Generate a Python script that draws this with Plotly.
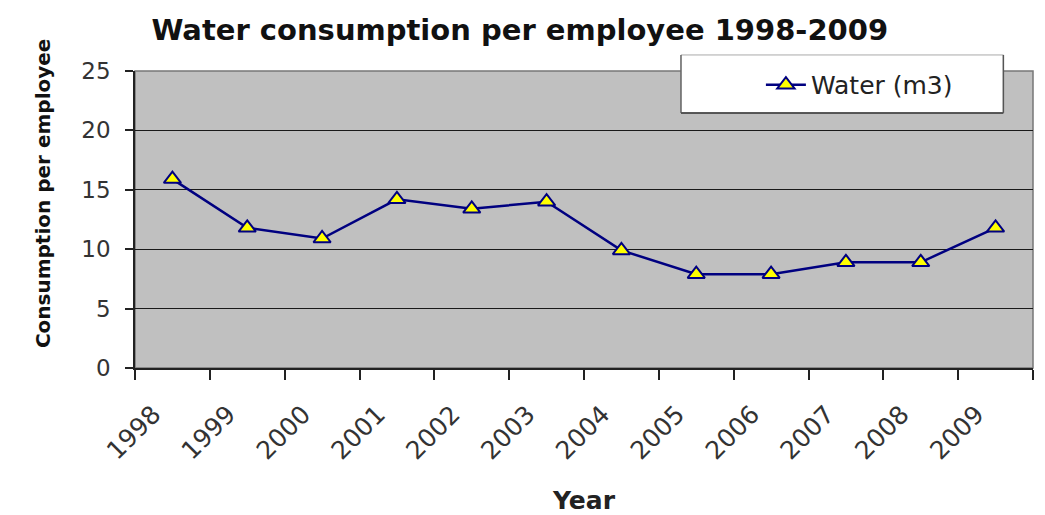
import plotly.graph_objects as go

years = ["1998", "1999", "2000", "2001", "2002", "2003", "2004", "2005", "2006", "2007", "2008", "2009"]
water = [15.9, 11.8, 10.9, 14.2, 13.4, 14.0, 9.9, 7.9, 7.9, 8.9, 8.9, 11.8]
y_ticks = [0, 5, 10, 15, 20, 25]

title_text = "Water consumption per employee 1998-2009"
series_name = "Water (m3)"
x_title = "Year"
y_title = "Consumption per employee"

FONT = "DejaVu Sans"

# page body has an 8px margin, so the figure is sized/offset to compensate
W, H = 1037, 507

fig = go.Figure()
fig.add_trace(go.Scatter(
    x=years, y=water, name=series_name, mode="lines+markers",
    line=dict(color="#000080", width=2.5),
    marker=dict(symbol="triangle-up", size=15, color="#ffff00",
                line=dict(color="#000080", width=2)),
))

fig.update_layout(
    width=W, height=H,
    margin=dict(l=127, r=12, t=63, b=147, autoexpand=False),
    paper_bgcolor="white",
    plot_bgcolor="#c0c0c0",
    font=dict(family=FONT, color="#222222"),
    title=dict(text="<b>" + title_text + "</b>", x=0.4935, xanchor="center",
               y=0.9566, yanchor="middle", font=dict(size=29, color="#111111")),
    showlegend=True,
    legend=dict(x=0.697, y=0.953, xanchor="left", yanchor="middle",
                bgcolor="rgba(0,0,0,0)", borderwidth=0,
                font=dict(size=25, color="#222222"),
                itemwidth=40),
)

# legend frame (white box with shadowed lower/right edges)
fig.add_shape(type="rect", xref="paper", yref="paper",
              x0=0.608, x1=0.967, y0=0.859, y1=1.054,
              fillcolor="white", line=dict(color="#aaaaaa", width=1), layer="above")
fig.add_shape(type="line", xref="paper", yref="paper",
              x0=0.608, x1=0.967, y0=0.859, y1=0.859,
              line=dict(color="#333333", width=1.5), layer="above")
fig.add_shape(type="line", xref="paper", yref="paper",
              x0=0.967, x1=0.967, y0=0.859, y1=1.054,
              line=dict(color="#555555", width=1.5), layer="above")
fig.add_shape(type="line", xref="paper", yref="paper",
              x0=0.608, x1=0.608, y0=0.859, y1=1.054,
              line=dict(color="#555555", width=1.2), layer="above")

fig.update_xaxes(
    type="category", range=[-0.5, len(years) - 0.5],
    tickson="boundaries", ticks="outside", ticklen=10,
    tickcolor="#222222", tickwidth=1.5,
    showline=True, linecolor="#222222", linewidth=1.5, mirror=False,
    showgrid=False, tickangle=-45, ticklabelshift=-19, ticklabelstandoff=20,
    tickfont=dict(size=25, color="#333333"),
    title=dict(text="<b>" + x_title + "</b>", font=dict(size=25, color="#222222"), standoff=36),
)
fig.update_yaxes(
    range=[0, 25], tickvals=y_ticks, ticks="outside", ticklen=8,
    tickcolor="#222222", tickwidth=1.5,
    showline=True, linecolor="#222222", linewidth=1.5,
    showgrid=True, gridcolor="#1a1a1a", gridwidth=1,
    zeroline=False, ticklabelstandoff=10,
    tickfont=dict(size=23, color="#333333"),
)

# y-axis title placed as in the original (slightly above the plot centre)
fig.add_annotation(text="<b>" + y_title + "</b>", xref="paper", yref="paper",
                   x=-0.1024, y=0.589, xanchor="center", yanchor="middle",
                   textangle=-90, showarrow=False,
                   font=dict(size=20, color="#111111", family=FONT))

# thin grey frame on the top and right of the plot area
fig.add_shape(type="rect", xref="paper", yref="paper", x0=0, y0=0, x1=1, y1=1,
              line=dict(color="#777777", width=1.5), layer="below")

fig.write_html("out.html")
